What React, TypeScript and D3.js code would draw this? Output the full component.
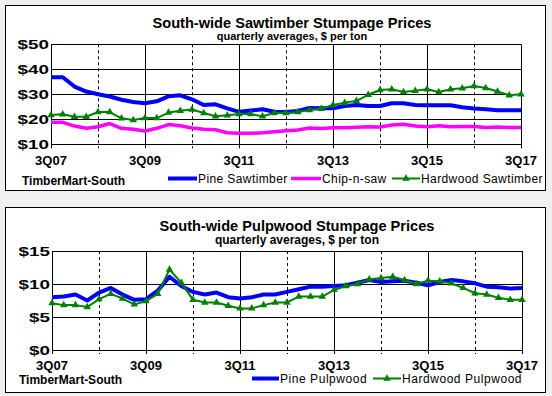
import React from 'react';
import * as d3 from 'd3';

// quarters 3Q07 .. 3Q17 (41 points)
const quarterCount = 41;
const xTickLabels = ['3Q07', '3Q09', '3Q11', '3Q13', '3Q15', '3Q17'];

const pineSawtimber = [36.8, 36.8, 33.1, 31.1, 30.0, 29.1, 27.8, 26.9, 26.4, 27.2, 29.2, 29.6, 28.0, 25.7, 26.0, 24.4, 23.0, 23.5, 24.0, 23.0, 22.9, 23.3, 24.5, 24.4, 24.4, 25.3, 25.7, 25.3, 25.3, 26.4, 26.4, 25.7, 25.6, 25.6, 25.6, 24.8, 24.3, 24.0, 23.6, 23.6, 23.6];
const chipNSaw = [18.8, 18.8, 17.3, 16.4, 17.0, 18.3, 16.4, 16.0, 15.3, 16.4, 17.9, 17.4, 16.5, 16.0, 15.8, 14.6, 14.4, 14.4, 14.6, 15.0, 15.4, 15.7, 16.5, 16.3, 16.6, 16.6, 16.8, 17.0, 16.9, 17.7, 18.0, 17.3, 17.0, 17.4, 17.0, 17.1, 17.1, 16.7, 16.9, 16.7, 16.7];
const hardwoodSawtimber = [21.7, 22.0, 21.0, 21.0, 22.9, 22.9, 20.4, 19.7, 20.5, 20.5, 22.7, 23.4, 23.9, 22.5, 21.2, 21.6, 22.1, 22.1, 21.2, 22.5, 22.5, 22.9, 23.7, 24.2, 25.7, 26.6, 27.4, 29.8, 31.7, 32.0, 30.9, 31.4, 32.0, 30.9, 32.0, 32.4, 33.3, 32.5, 31.1, 29.6, 30.0];

const pinePulpwood = [8.0, 8.1, 8.4, 7.5, 8.7, 9.4, 8.4, 7.6, 7.7, 9.0, 11.1, 9.7, 8.8, 8.4, 8.7, 8.0, 7.8, 8.0, 8.4, 8.4, 8.8, 9.2, 9.6, 9.6, 9.7, 9.8, 10.2, 10.6, 10.3, 10.4, 10.5, 10.2, 9.8, 10.3, 10.6, 10.4, 10.1, 9.6, 9.5, 9.3, 9.4];
const hardwoodPulpwood = [7.1, 6.8, 6.8, 6.5, 7.7, 8.5, 7.8, 6.9, 7.4, 8.5, 12.2, 10.2, 7.6, 7.2, 7.2, 6.7, 6.3, 6.3, 6.8, 7.2, 7.2, 8.1, 8.1, 8.1, 9.1, 9.7, 10.0, 10.7, 10.9, 11.1, 10.6, 10.0, 10.5, 10.4, 10.1, 9.4, 8.6, 8.4, 7.9, 7.6, 7.6];

const sawTicks = [10, 20, 30, 40, 50];
const pulpTicks = [0, 5, 10, 15];

const FONT = '"Liberation Sans", Arial, sans-serif';

type Series = { name: string; values: number[]; color: string; width: number; marker?: boolean; legendX: [number, number] };

type PanelProps = {
  box: [number, number, number, number];
  plot: { x0: number; x1: number; y0: number; y1: number };
  domain: [number, number];
  ticks: number[];
  title: string;
  subtitle: string;
  subtitleSize: number;
  titleY: number;
  subtitleY: number;
  centerX: number;
  tickLabelY: number;
  legendY: number;
  legendSpacing: number;
  sourceX: number;
  sourceY: number;
  series: Series[];
};

const tri = d3.symbol().type(d3.symbolTriangle).size(24)();

function Panel(p: PanelProps) {
  const x = d3.scaleLinear().domain([0, quarterCount - 1]).range([p.plot.x0, p.plot.x1]);
  const y = d3.scaleLinear().domain(p.domain).range([p.plot.y1, p.plot.y0]);
  const line = d3.line<number>().x((_, i) => x(i)).y(d => y(d));
  const gridQ = d3.range(0, quarterCount, 4);

  return (
    <g>
      <rect x={p.box[0] + 0.5} y={p.box[1] + 0.5} width={p.box[2]} height={p.box[3]} fill="#fff" stroke="#000" />
      <text x={p.centerX} y={p.titleY} textAnchor="middle" fontFamily={FONT} fontWeight="bold" fontSize={14.6}>{p.title}</text>
      <text x={p.centerX} y={p.subtitleY} textAnchor="middle" fontFamily={FONT} fontWeight="bold" fontSize={p.subtitleSize}>{p.subtitle}</text>

      {p.ticks.map(t => (
        <g key={t}>
          <line x1={p.plot.x0} x2={p.plot.x1} y1={Math.round(y(t)) + 0.5} y2={Math.round(y(t)) + 0.5} stroke="#000" />
          <text transform={`translate(${p.plot.x0 - 2},${y(t) + 4.5}) scale(1.45,1)`} textAnchor="end" fontFamily={FONT} fontWeight="bold" fontSize={13}>{`$${t}`}</text>
        </g>
      ))}
      {gridQ.map((q, k) => (
        <g key={q}>
          <line x1={Math.round(x(q)) + 0.5} x2={Math.round(x(q)) + 0.5} y1={p.plot.y0} y2={p.plot.y1 + 4} stroke="#000" strokeDasharray={k % 2 ? '3,3' : undefined} />
          {k % 2 === 0 && (
            <text x={x(q)} y={p.tickLabelY} textAnchor="middle" fontFamily={FONT} fontWeight="bold" fontSize={13}>{xTickLabels[k / 2]}</text>
          )}
        </g>
      ))}

      {p.series.map(s => (
        <g key={s.name}>
          <path d={line(s.values) || ''} fill="none" stroke={s.color} strokeWidth={s.width} strokeLinejoin="round" />
          {s.marker && s.values.map((v, i) => (
            <path key={i} d={tri || ''} transform={`translate(${x(i)},${y(v)})`} fill={s.color} />
          ))}
        </g>
      ))}

      <text x={p.sourceX} y={p.sourceY} fontFamily={FONT} fontWeight="bold" fontSize={12}>TimberMart-South</text>
      {p.series.map(s => (
        <g key={'lg' + s.name}>
          <line x1={s.legendX[0]} x2={s.legendX[1]} y1={p.legendY} y2={p.legendY} stroke={s.color} strokeWidth={s.width} />
          {s.marker && <path d={tri || ''} transform={`translate(${(s.legendX[0] + s.legendX[1]) / 2},${p.legendY})`} fill={s.color} />}
          <text x={s.legendX[1] + 1} y={p.legendY + 4.5} fontFamily={FONT} fontSize={12} letterSpacing={p.legendSpacing}>{s.name}</text>
        </g>
      ))}
    </g>
  );
}

export default function App() {
  return (
    <svg width={552} height={396} style={{ position: 'absolute', left: 0, top: 0 }}>
      <rect width={552} height={396} fill="#f0f0f0" />
      <Panel
        box={[5, 5, 540, 185]}
        plot={{ x0: 51, x1: 521, y0: 44.3, y1: 144.3 }}
        domain={[10, 50]}
        ticks={sawTicks}
        title="South-wide Sawtimber Stumpage Prices"
        subtitle="quarterly averages, $ per ton"
        subtitleSize={11}
        titleY={28}
        subtitleY={40}
        centerX={292}
        tickLabelY={165}
        legendY={178.5}
        legendSpacing={0.4}
        sourceX={22}
        sourceY={185}
        series={[
          { name: 'Pine Sawtimber', values: pineSawtimber, color: '#0000ff', width: 4, legendX: [168, 197] },
          { name: 'Chip-n-saw', values: chipNSaw, color: '#ff00ff', width: 3.5, legendX: [291, 321] },
          { name: 'Hardwood Sawtimber', values: hardwoodSawtimber, color: '#008000', width: 2, marker: true, legendX: [392, 420] },
        ]}
      />
      <Panel
        box={[5, 207, 540, 185]}
        plot={{ x0: 52, x1: 522, y0: 251, y1: 350 }}
        domain={[0, 15]}
        ticks={pulpTicks}
        title="South-wide Pulpwood Stumpage Prices"
        subtitle="quarterly averages, $ per ton"
        subtitleSize={12}
        titleY={231}
        subtitleY={244}
        centerX={297}
        tickLabelY={370}
        legendY={378.5}
        legendSpacing={0.55}
        sourceX={19}
        sourceY={384}
        series={[
          { name: 'Pine Pulpwood', values: pinePulpwood, color: '#0000ff', width: 4, legendX: [252, 279] },
          { name: 'Hardwood Pulpwood', values: hardwoodPulpwood, color: '#008000', width: 2, marker: true, legendX: [373, 401] },
        ]}
      />
    </svg>
  );
}
